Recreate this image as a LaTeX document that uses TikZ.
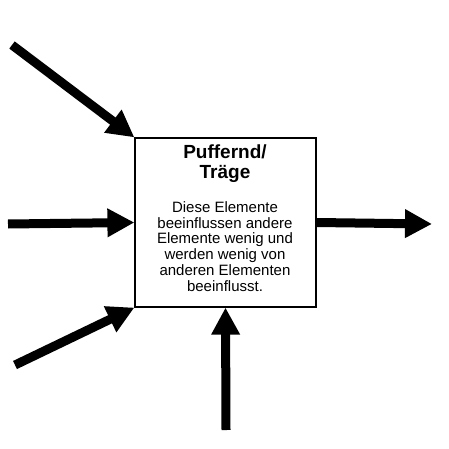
\documentclass[tikz,border=0pt]{standalone}
\usepackage{fontspec}
\setmainfont{Liberation Sans}
\usetikzlibrary{arrows.meta,positioning}
\tikzset{flow/.style={line width=9pt,-{Triangle[length=27pt,width=27pt]}}}

\begin{document}
\begin{tikzpicture}[x=1pt,y=-1pt]
      \useasboundingbox (0,0) rectangle (449,449);
      \node[draw,line width=1.2pt,minimum width=181pt,minimum height=169pt,inner sep=0pt] (puffer) at (225.5,222.5) {};
      \node[align=center,inner sep=0pt,font=\bfseries\fontsize{19}{20.5}\selectfont] (titel) at (225,163.5) {Puffernd/\\Träge};
      \node[align=center,inner sep=0pt,font=\fontsize{15}{15.8}\selectfont] (text) at (225,246.5) {Diese Elemente\\beeinflussen andere\\Elemente wenig und\\werden wenig von\\anderen Elementen\\beeinflusst.};
      \coordinate (ein1) at (12,45);
      \coordinate (ein2) at (8,224);
      \coordinate (ein3) at (15,365);
      \coordinate (ein4) at (226,430);
      \coordinate (aus) at (432,224);
      \draw[flow] (ein1) -- (puffer.north west);
      \draw[flow] (ein2) -- (puffer.west);
      \draw[flow] (ein3) -- (puffer.south west);
      \draw[flow] (ein4) -- (puffer.south);
      \draw[flow] (puffer.east) -- (aus);
    \end{tikzpicture}
\end{document}
